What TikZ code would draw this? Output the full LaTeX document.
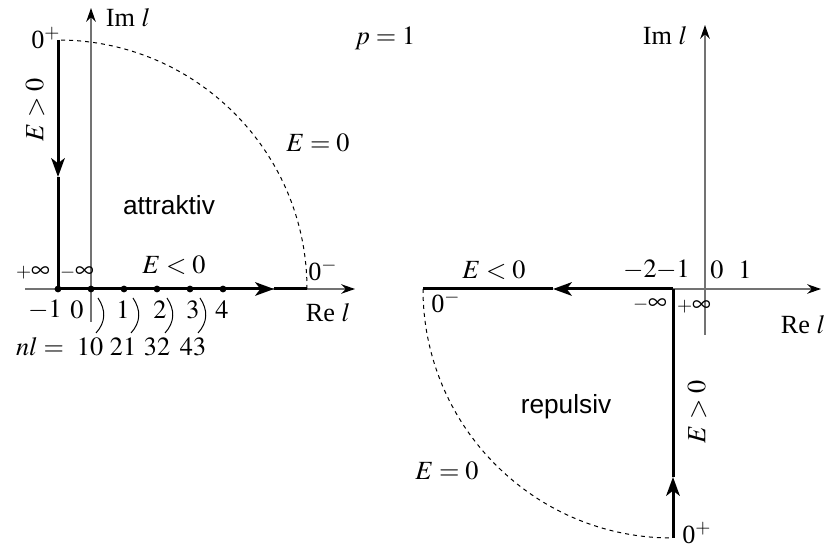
\documentclass[tikz,border=0pt]{standalone}
\usepackage{mathptmx}
\usepackage{fontspec}
\setmainfont{Liberation Serif}
\setsansfont{Liberation Sans}
\usetikzlibrary{arrows.meta}

\begin{document}
\begin{tikzpicture}[x=0.4pt,y=0.4pt,
  axis/.style={black!55,line width=0.5pt},
  axistip/.style={-{Stealth[length=5.5pt,width=3.8pt,black]}},
  contour/.style={line width=1.2pt},
  midtip/.style={-{Stealth[length=7.5pt,width=5.4pt,inset=2pt]}},
  bound/.style={line width=0.4pt,dash pattern=on 1.6pt off 1.6pt},
  lbl/.style={inner sep=0pt,font=\fontsize{10.5}{12}\selectfont},
  region/.style={inner sep=0pt,font=\sffamily\fontsize{10.5}{12}\selectfont}]
\def\sp{${\scriptstyle +}\infty$}
\def\sm{${\scriptstyle -}\infty$}
  \useasboundingbox (0,0) rectangle (829,-551);
  % attraktiv
  \coordinate (Lo)   at (58,-289);
  \coordinate (Ltop) at (58,-40);
  \coordinate (Lend) at (307,-289);
  \coordinate (Lvm)  at (58,-177);
  \coordinate (Lhm)  at (274,-289);
  \coordinate (LreS) at (25,-289);
  \coordinate (LreE) at (355,-289);
  \coordinate (LimS) at (91,-322);
  \coordinate (LimE) at (91,-8);
  \draw[axis,axistip] (LreS) -- (LreE);
  \draw[axis,axistip] (LimS) -- (LimE);
  \draw[bound] (Lend) arc (0:90:249);
  \draw[contour,midtip] (Ltop) -- (Lvm);
  \draw[contour] (Lvm) -- (Lo);
  \draw[contour,midtip] (Lo) -- (Lhm);
  \draw[contour] (Lhm) -- (Lend);
  \foreach \n in {-1,...,4}
    {
     \fill (91+33*\n,-289) circle (3.4);
    }
  \foreach \x in {98,133,167,200}
    {
     \draw[line width=0.4pt] (\x,-298) .. controls (\x+8,-310) and (\x+8,-322) .. (\x-2,-333);
    }
  \node[lbl] (Lzp)  at (46,-38)   {0$^+$};
  \node[lbl] (Lim)  at (128,-18)  {Im $l$};
  \node[lbl,rotate=90] (Lpos) at (35,-110) {$E>0$};
  \node[lbl] (Lnull) at (318,-143) {$E=0$};
  \node[region] (att) at (169,-205) {attraktiv};
  \node[lbl] (Lpinf) at (33,-273)  {\sp};
  \node[lbl] (Lminf) at (77,-273)  {\sm};
  \node[lbl] (Lneg)  at (174,-265) {$E<0$};
  \node[lbl] (Lzm)   at (323,-270) {0$^-$};
  \node[lbl] (Lre)   at (328,-313) {Re $l$};
  \foreach \n/\x in {-1/45,0/77,1/123,2/160,3/193,4/222}
    {
     \node[lbl] (k\n) at (\x,-310) {$\n$};
    }
  \node[lbl] (nl) at (40,-347) {$nl=$};
  \foreach \v/\x in {10/90,21/123,32/157,43/193}
    {
     \node[lbl] (nl\v) at (\x,-347) {$\v$};
    }
  \node[lbl] (pval) at (385,-38) {$p=1$};
  % repulsiv
  \coordinate (Ro)    at (673,-289);
  \coordinate (Rleft) at (423,-289);
  \coordinate (Rbot)  at (673,-538);
  \coordinate (Rhm)   at (553,-289);
  \coordinate (Rvm)   at (673,-477);
  \coordinate (RreE)  at (821,-289);
  \coordinate (RimS)  at (705,-335);
  \coordinate (RimE)  at (705,-25);
  \draw[axis,axistip] (Ro) -- (RreE);
  \draw[axis,axistip] (RimS) -- (RimE);
  \draw[bound] (Rleft) arc (180:270:249);
  \draw[contour,midtip] (Rbot) -- (Rvm);
  \draw[contour] (Rvm) -- (Ro);
  \draw[contour,midtip] (Ro) -- (Rhm);
  \draw[contour] (Rhm) -- (Rleft);
  \node[lbl] (Rim)   at (665,-36)  {Im $l$};
  \node[lbl] (Rneg)  at (494,-270) {$E<0$};
  \foreach \n/\x in {-2/640,-1/673,0/717,1/745}
    {
     \node[lbl] (r\n) at (\x,-270) {$\n$};
    }
  \node[lbl] (Rzm)   at (446,-302) {0$^-$};
  \node[lbl] (Rminf) at (650,-305) {\sm};
  \node[lbl] (Rpinf) at (694,-307) {\sp};
  \node[lbl] (Rre)   at (803,-325) {Re $l$};
  \node[lbl,rotate=90] (Rpos) at (697,-412) {$E>0$};
  \node[lbl] (Rzp)   at (697,-533) {0$^+$};
  \node[lbl] (Rnull) at (447,-471) {$E=0$};
  \node[region] (rep) at (566,-407) {repulsiv};
\end{tikzpicture}
\end{document}
